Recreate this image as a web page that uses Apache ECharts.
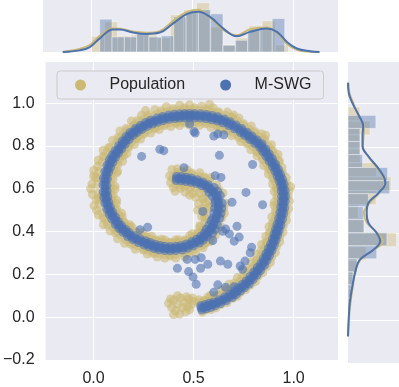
<!DOCTYPE html>
<html>
<head>
<meta charset="utf-8">
<script src="https://cdn.jsdelivr.net/npm/echarts@6/dist/echarts.min.js"></script>
<style>
  html, body { margin: 0; padding: 0; background: #fff; }
  #chart { width: 399px; height: 387px; }
</style>
</head>
<body>
<div id="chart"></div>
<script>
// ticks
const xTicks = [0, 0.5, 1.0];
const yTicks = [-0.2, 0, 0.2, 0.4, 0.6, 0.8, 1.0];

// Population (tan) scatter
const popOuter = [
  [0.419,0.693],[0.441,0.681],[0.468,0.689],[0.491,0.674],
  [0.531,0.675],[0.555,0.655],[0.586,0.652],
  [0.616,0.618],[0.626,0.594],[0.647,0.580],
  [0.660,0.532],[0.650,0.508],[0.654,0.485],[0.640,0.463],
  [0.634,0.424],[0.615,0.407],[0.610,0.384],
  [0.586,0.354],[0.561,0.346],[0.547,0.324],
  [0.511,0.301],[0.479,0.300],[0.455,0.282],
  [0.411,0.276],[0.383,0.286],[0.356,0.276],
  [0.319,0.281],[0.297,0.298],[0.269,0.295],[0.248,0.314],
  [0.209,0.317],[0.186,0.340],[0.155,0.345],
  [0.120,0.366],[0.108,0.394],[0.082,0.403],
  [0.049,0.432],[0.048,0.463],[0.023,0.478],
  [0.002,0.521],[0.013,0.551],[-0.006,0.573],
  [-0.008,0.623],[0.010,0.652],[0.001,0.685],
  [0.023,0.733],[0.048,0.751],[0.048,0.780],[0.076,0.793],
  [0.095,0.827],[0.123,0.841],[0.132,0.870],[0.162,0.881],
  [0.189,0.916],[0.220,0.919],[0.240,0.944],[0.272,0.944],
  [0.306,0.969],[0.338,0.964],[0.364,0.983],[0.396,0.974],
  [0.430,0.990],[0.455,0.978],[0.480,0.992],[0.505,0.978],
  [0.540,0.985],[0.567,0.971],[0.598,0.977],[0.625,0.960],
  [0.669,0.958],[0.693,0.935],[0.727,0.930],[0.751,0.903],
  [0.788,0.893],[0.807,0.866],[0.838,0.857],[0.856,0.830],
  [0.889,0.806],[0.897,0.777],[0.922,0.760],[0.929,0.730],
  [0.942,0.699],[0.946,0.672],[0.963,0.652],[0.964,0.626],
  [0.978,0.593],[0.972,0.566],[0.979,0.542],
  [0.975,0.507],[0.963,0.482],[0.964,0.453],[0.949,0.428],
  [0.947,0.398],[0.932,0.378],[0.931,0.352],[0.915,0.332],
  [0.909,0.302],[0.891,0.282],[0.884,0.256],[0.865,0.236],
  [0.846,0.208],[0.823,0.192],[0.809,0.166],[0.784,0.150],
  [0.761,0.129],[0.737,0.118],[0.719,0.098],[0.696,0.088],
  [0.667,0.068],[0.637,0.059],[0.612,0.044],
  [0.588,0.036],[0.564,0.035],[0.544,0.024]
];
const popInner = [
  [0.408,0.588],[0.433,0.602],[0.457,0.584],[0.483,0.595],
  [0.496,0.577],[0.529,0.581],[0.551,0.554],
  [0.546,0.553],[0.574,0.545],[0.577,0.515],
  [0.560,0.532],[0.573,0.508],[0.554,0.485],[0.563,0.463],
  [0.555,0.467],[0.556,0.440],[0.531,0.427],
  [0.533,0.420],[0.521,0.395],[0.494,0.390],
  [0.481,0.381],[0.456,0.360],[0.425,0.362],
  [0.411,0.361],[0.383,0.350],[0.356,0.361],
  [0.340,0.364],[0.313,0.360],[0.290,0.378],[0.264,0.376],
  [0.245,0.394],[0.213,0.398],[0.191,0.422],
  [0.181,0.432],[0.154,0.443],[0.143,0.469],
  [0.140,0.486],[0.116,0.503],[0.114,0.532],
  [0.115,0.546],[0.098,0.569],[0.107,0.598],
  [0.107,0.612],[0.097,0.645],[0.116,0.674],
  [0.120,0.681],[0.121,0.712],[0.145,0.728],[0.149,0.754],
  [0.167,0.764],[0.176,0.794],[0.204,0.807],[0.215,0.834],
  [0.235,0.832],[0.254,0.856],[0.286,0.860],[0.306,0.881],
  [0.328,0.876],[0.355,0.895],[0.386,0.890],[0.413,0.905],
  [0.430,0.895],[0.455,0.907],[0.480,0.897],[0.505,0.907],
  [0.528,0.895],[0.559,0.903],[0.586,0.887],[0.617,0.892],
  [0.631,0.876],[0.665,0.873],[0.689,0.848],[0.723,0.841],
  [0.736,0.819],[0.767,0.810],[0.786,0.783],[0.816,0.774],
  [0.817,0.754],[0.843,0.737],[0.850,0.708],[0.875,0.690],
  [0.874,0.669],[0.895,0.649],[0.895,0.622],[0.913,0.603],
  [0.903,0.588],[0.916,0.563],[0.904,0.537],
  [0.902,0.522],[0.908,0.493],[0.891,0.468],[0.894,0.439],
  [0.877,0.423],[0.879,0.396],[0.861,0.377],[0.862,0.350],
  [0.839,0.340],[0.838,0.311],[0.814,0.294],[0.812,0.265],
  [0.789,0.258],[0.781,0.229],[0.752,0.216],[0.742,0.187],
  [0.719,0.185],[0.705,0.160],[0.677,0.154],[0.664,0.130],
  [0.640,0.127],[0.617,0.104],[0.585,0.103],
  [0.571,0.093],[0.552,0.078],[0.527,0.081]
];
const popMid = [
  [0.417,0.675],[0.441,0.674],[0.466,0.671],[0.491,0.667],
  [0.411,0.621],[0.435,0.620],[0.460,0.617],[0.485,0.613],
  [0.525,0.658],[0.553,0.648],[0.580,0.635],
  [0.507,0.608],[0.535,0.598],[0.562,0.585],
  [0.578,0.364],[0.559,0.348],[0.539,0.334],
  [0.544,0.406],[0.525,0.390],[0.505,0.376],
  [0.504,0.318],[0.476,0.307],[0.448,0.299],
  [0.486,0.368],[0.458,0.357],[0.430,0.349],
  [0.411,0.294],[0.383,0.293],[0.356,0.294],
  [0.411,0.348],[0.383,0.347],[0.356,0.348],
  [0.323,0.299],[0.298,0.305],[0.273,0.313],[0.249,0.321],
  [0.337,0.351],[0.312,0.357],[0.287,0.365],[0.263,0.373],
  [0.216,0.334],[0.188,0.347],[0.162,0.362],
  [0.240,0.382],[0.212,0.395],[0.186,0.410],
  [0.136,0.383],[0.116,0.401],[0.098,0.420],
  [0.172,0.423],[0.152,0.441],[0.134,0.460],
  [0.069,0.443],[0.055,0.466],[0.043,0.489],
  [0.124,0.477],[0.110,0.500],[0.098,0.523],
  [0.030,0.527],[0.025,0.553],[0.022,0.579],
  [0.092,0.541],[0.087,0.567],[0.084,0.593],
  [0.019,0.620],[0.021,0.651],[0.028,0.682],
  [0.084,0.615],[0.086,0.646],[0.093,0.677],
  [0.042,0.723],[0.054,0.748],[0.067,0.770],[0.082,0.790],
  [0.100,0.692],[0.112,0.717],[0.125,0.739],[0.140,0.759],
  [0.113,0.812],[0.131,0.834],[0.150,0.855],[0.170,0.874],
  [0.153,0.776],[0.171,0.798],[0.190,0.819],[0.210,0.838],
  [0.200,0.896],[0.225,0.910],[0.251,0.924],[0.277,0.935],
  [0.226,0.848],[0.251,0.862],[0.277,0.876],[0.303,0.887],
  [0.312,0.946],[0.341,0.954],[0.370,0.960],[0.399,0.964],
  [0.324,0.894],[0.353,0.902],[0.382,0.908],[0.411,0.912],
  [0.430,0.967],[0.455,0.968],[0.480,0.969],[0.505,0.968],
  [0.430,0.913],[0.455,0.914],[0.480,0.915],[0.505,0.914],
  [0.538,0.967],[0.567,0.964],[0.596,0.959],[0.625,0.953],
  [0.530,0.913],[0.559,0.910],[0.588,0.905],[0.617,0.899],
  [0.661,0.942],[0.690,0.929],[0.719,0.914],[0.748,0.897],
  [0.639,0.892],[0.668,0.879],[0.697,0.864],[0.726,0.847],
  [0.778,0.878],[0.803,0.860],[0.828,0.842],[0.852,0.824],
  [0.746,0.834],[0.771,0.816],[0.796,0.798],[0.820,0.780],
  [0.875,0.796],[0.892,0.773],[0.908,0.750],[0.924,0.726],
  [0.831,0.764],[0.848,0.741],[0.864,0.718],[0.880,0.694],
  [0.890,0.676],[0.901,0.652],[0.911,0.629],[0.919,0.606],
  [0.921,0.589],[0.923,0.563],[0.922,0.538],
  [0.920,0.518],[0.915,0.491],[0.909,0.464],[0.901,0.437],
  [0.894,0.417],[0.886,0.394],[0.878,0.371],[0.869,0.348],
  [0.859,0.329],[0.847,0.306],[0.834,0.283],[0.821,0.260],
  [0.807,0.243],[0.789,0.222],[0.770,0.201],[0.750,0.180],
  [0.733,0.167],[0.712,0.152],[0.691,0.136],[0.671,0.122],
  [0.648,0.111],[0.620,0.098],[0.593,0.087],
  [0.574,0.081],[0.552,0.075],[0.530,0.069]
];
const popExtra = [
  [0.380,0.660],[0.385,0.628],[0.392,0.690],[0.398,0.605],[0.395,0.650],
  [0.450,0.610],[0.480,0.570],[0.510,0.560],[0.525,0.530],[0.520,0.500],[0.545,0.510],[0.540,0.470],
  [0.375,0.065],[0.390,0.045],[0.400,0.080],[0.410,0.030],[0.420,0.060],[0.430,0.015],
  [0.435,0.090],[0.445,0.045],[0.455,0.070],[0.460,0.025],[0.470,0.050],[0.475,0.085],
  [0.480,0.035],[0.490,0.060],[0.500,0.075],[0.420,0.100],[0.400,0.012],[0.385,0.085],
  [0.495,0.090],[0.465,0.095],
  [-0.015,0.600],[0.000,0.660],[0.020,0.705],[0.030,0.560],[0.015,0.500],[0.070,0.430],
  [0.200,0.895],[0.260,0.965],[0.580,0.995],[0.700,0.945],[0.860,0.850],[0.985,0.610]
];

// M-SWG (blue) scatter: core of the band, a staggered core row, the two edges, stray points
const mswgCore = [
  [0.414,0.648],[0.438,0.647],[0.463,0.644],[0.488,0.640],
  [0.516,0.633],[0.544,0.623],[0.571,0.610],
  [0.590,0.594],[0.607,0.576],[0.621,0.556],
  [0.625,0.532],[0.623,0.508],[0.619,0.485],[0.613,0.463],
  [0.603,0.441],[0.592,0.420],[0.579,0.401],
  [0.561,0.385],[0.542,0.369],[0.522,0.355],
  [0.495,0.343],[0.467,0.332],[0.439,0.324],
  [0.411,0.321],[0.383,0.320],[0.356,0.321],
  [0.330,0.325],[0.305,0.331],[0.280,0.339],[0.256,0.347],
  [0.228,0.358],[0.200,0.371],[0.174,0.386],
  [0.154,0.403],[0.134,0.421],[0.116,0.440],
  [0.101,0.463],[0.087,0.486],[0.075,0.509],
  [0.066,0.535],[0.061,0.561],[0.058,0.587],
  [0.057,0.617],[0.059,0.648],[0.066,0.679],
  [0.076,0.705],[0.088,0.730],[0.101,0.752],[0.116,0.772],
  [0.133,0.794],[0.151,0.816],[0.170,0.837],[0.190,0.856],
  [0.213,0.872],[0.238,0.886],[0.264,0.900],[0.290,0.911],
  [0.318,0.920],[0.347,0.928],[0.376,0.934],[0.405,0.938],
  [0.430,0.940],[0.455,0.941],[0.480,0.942],[0.505,0.941],
  [0.534,0.940],[0.563,0.937],[0.592,0.932],[0.621,0.926],
  [0.650,0.917],[0.679,0.904],[0.708,0.889],[0.737,0.872],
  [0.762,0.856],[0.787,0.838],[0.812,0.820],[0.836,0.802],
  [0.853,0.780],[0.870,0.757],[0.886,0.734],[0.902,0.710],
  [0.915,0.687],[0.926,0.663],[0.936,0.640],[0.944,0.617],
  [0.948,0.591],[0.950,0.565],[0.949,0.540],
  [0.946,0.513],[0.941,0.486],[0.935,0.459],[0.927,0.432],
  [0.919,0.408],[0.911,0.385],[0.903,0.362],[0.894,0.339],
  [0.883,0.316],[0.871,0.293],[0.858,0.270],[0.845,0.247],
  [0.827,0.225],[0.809,0.204],[0.790,0.183],[0.770,0.162],
  [0.749,0.145],[0.728,0.130],[0.707,0.114],[0.687,0.100],
  [0.659,0.086],[0.631,0.073],[0.604,0.062],
  [0.582,0.055],[0.560,0.049],[0.538,0.043]
];
const mswgCore2 = [
  [0.426,0.648],[0.451,0.646],[0.476,0.642],[0.502,0.637],[0.530,0.628],[0.558,0.617],
  [0.581,0.602],[0.599,0.585],[0.614,0.566],[0.623,0.544],[0.624,0.520],[0.621,0.497],
  [0.616,0.474],[0.608,0.452],[0.598,0.431],[0.586,0.411],[0.570,0.393],[0.552,0.377],
  [0.532,0.362],[0.509,0.349],[0.481,0.338],[0.453,0.328],[0.425,0.323],[0.397,0.321],
  [0.370,0.321],[0.343,0.323],[0.318,0.328],[0.293,0.335],[0.268,0.343],[0.242,0.353],
  [0.214,0.365],[0.187,0.379],[0.164,0.395],[0.144,0.412],[0.125,0.431],[0.109,0.452],
  [0.094,0.475],[0.081,0.498],[0.071,0.522],[0.064,0.548],[0.060,0.574],[0.058,0.602],
  [0.058,0.633],[0.063,0.664],[0.071,0.692],[0.082,0.718],[0.095,0.741],[0.109,0.762],
  [0.125,0.783],[0.142,0.805],[0.161,0.827],[0.180,0.847],[0.202,0.864],[0.226,0.879],
  [0.251,0.893],[0.277,0.906],[0.304,0.916],[0.333,0.924],[0.362,0.931],[0.391,0.936],
  [0.418,0.939],[0.443,0.941],[0.468,0.942],[0.493,0.942],[0.520,0.941],[0.549,0.939],
  [0.578,0.935],[0.607,0.929],[0.636,0.922],[0.665,0.911],[0.694,0.897],[0.723,0.881],
  [0.750,0.864],[0.775,0.847],[0.800,0.829],[0.824,0.811],[0.845,0.791],[0.862,0.769],
  [0.878,0.746],[0.894,0.722],[0.909,0.699],[0.921,0.675],[0.931,0.652],[0.940,0.629],
  [0.946,0.604],[0.949,0.578],[0.950,0.553],[0.948,0.527],[0.944,0.500],[0.938,0.473],
  [0.931,0.446],[0.923,0.420],[0.915,0.397],[0.907,0.374],[0.899,0.351],[0.889,0.328],
  [0.877,0.305],[0.865,0.282],[0.852,0.259],[0.836,0.236],[0.818,0.215],[0.800,0.194],
  [0.780,0.173],[0.760,0.154],[0.739,0.138],[0.718,0.122],[0.697,0.107],[0.673,0.093],
  [0.645,0.080],[0.618,0.068],[0.593,0.059],[0.571,0.052],[0.549,0.046]
];
const mswgEdges = [
  [0.415,0.658],[0.439,0.657],[0.464,0.654],[0.489,0.650],
  [0.413,0.638],[0.437,0.637],[0.462,0.634],[0.487,0.630],
  [0.519,0.642],[0.547,0.632],[0.574,0.619],
  [0.513,0.624],[0.541,0.614],[0.568,0.601],
  [0.603,0.606],[0.620,0.588],[0.634,0.568],
  [0.577,0.582],[0.594,0.564],[0.608,0.544],
  [0.643,0.532],[0.641,0.508],[0.637,0.485],[0.631,0.463],
  [0.607,0.532],[0.605,0.508],[0.601,0.485],[0.595,0.463],
  [0.619,0.432],[0.608,0.411],[0.595,0.392],
  [0.587,0.450],[0.576,0.429],[0.563,0.410],
  [0.568,0.376],[0.549,0.360],[0.529,0.346],
  [0.554,0.394],[0.535,0.378],[0.515,0.364],
  [0.499,0.333],[0.471,0.322],[0.443,0.314],
  [0.491,0.353],[0.463,0.342],[0.435,0.334],
  [0.411,0.311],[0.383,0.310],[0.356,0.311],
  [0.411,0.331],[0.383,0.330],[0.356,0.331],
  [0.327,0.315],[0.302,0.321],[0.277,0.329],[0.253,0.337],
  [0.333,0.335],[0.308,0.341],[0.283,0.349],[0.259,0.357],
  [0.224,0.349],[0.196,0.362],[0.170,0.377],
  [0.232,0.367],[0.204,0.380],[0.178,0.395],
  [0.147,0.396],[0.127,0.414],[0.109,0.433],
  [0.161,0.410],[0.141,0.428],[0.123,0.447],
  [0.092,0.458],[0.078,0.481],[0.066,0.504],
  [0.110,0.468],[0.096,0.491],[0.084,0.514],
  [0.056,0.533],[0.051,0.559],[0.048,0.585],
  [0.076,0.537],[0.071,0.563],[0.068,0.589],
  [0.047,0.618],[0.049,0.649],[0.056,0.680],
  [0.067,0.616],[0.069,0.647],[0.076,0.678],
  [0.067,0.710],[0.079,0.735],[0.092,0.757],[0.107,0.777],
  [0.085,0.700],[0.097,0.725],[0.110,0.747],[0.125,0.767],
  [0.125,0.801],[0.143,0.823],[0.162,0.844],[0.182,0.863],
  [0.141,0.787],[0.159,0.809],[0.178,0.830],[0.198,0.849],
  [0.208,0.881],[0.233,0.895],[0.259,0.909],[0.285,0.920],
  [0.218,0.863],[0.243,0.877],[0.269,0.891],[0.295,0.902],
  [0.316,0.930],[0.345,0.938],[0.374,0.944],[0.403,0.948],
  [0.320,0.910],[0.349,0.918],[0.378,0.924],[0.407,0.928],
  [0.430,0.950],[0.455,0.951],[0.480,0.952],[0.505,0.951],
  [0.430,0.930],[0.455,0.931],[0.480,0.932],[0.505,0.931],
  [0.535,0.950],[0.564,0.947],[0.593,0.942],[0.622,0.936],
  [0.533,0.930],[0.562,0.927],[0.591,0.922],[0.620,0.916],
  [0.654,0.926],[0.683,0.913],[0.712,0.898],[0.741,0.881],
  [0.646,0.908],[0.675,0.895],[0.704,0.880],[0.733,0.863],
  [0.768,0.864],[0.793,0.846],[0.818,0.828],[0.842,0.810],
  [0.756,0.848],[0.781,0.830],[0.806,0.812],[0.830,0.794],
  [0.861,0.786],[0.878,0.763],[0.894,0.740],[0.910,0.716],
  [0.845,0.774],[0.862,0.751],[0.878,0.728],[0.894,0.704],
  [0.924,0.691],[0.935,0.667],[0.945,0.644],[0.953,0.621],
  [0.906,0.683],[0.917,0.659],[0.927,0.636],[0.935,0.613],
  [0.958,0.592],[0.960,0.566],[0.959,0.541],
  [0.938,0.590],[0.940,0.564],[0.939,0.539],
  [0.956,0.511],[0.951,0.484],[0.945,0.457],[0.937,0.430],
  [0.936,0.515],[0.931,0.488],[0.925,0.461],[0.917,0.434],
  [0.928,0.405],[0.920,0.382],[0.912,0.359],[0.903,0.336],
  [0.910,0.411],[0.902,0.388],[0.894,0.365],[0.885,0.342],
  [0.892,0.311],[0.880,0.288],[0.867,0.265],[0.854,0.242],
  [0.874,0.321],[0.862,0.298],[0.849,0.275],[0.836,0.252],
  [0.835,0.218],[0.817,0.197],[0.798,0.176],[0.778,0.155],
  [0.819,0.232],[0.801,0.211],[0.782,0.190],[0.762,0.169],
  [0.755,0.137],[0.734,0.122],[0.713,0.106],[0.693,0.092],
  [0.743,0.153],[0.722,0.138],[0.701,0.122],[0.681,0.108],
  [0.663,0.077],[0.635,0.064],[0.608,0.053],
  [0.655,0.095],[0.627,0.082],[0.600,0.071],
  [0.585,0.045],[0.563,0.039],[0.541,0.033],
  [0.579,0.065],[0.557,0.059],[0.535,0.053]
];
const mswgStray = [
  [0.480,0.903],[0.502,0.867],[0.508,0.860],[0.601,0.846],[0.621,0.856],[0.651,0.852],
  [0.240,0.751],[0.331,0.784],[0.351,0.778],[0.629,0.756],[0.795,0.713],[0.452,0.698],
  [0.608,0.661],[0.637,0.653],[0.762,0.583],[0.692,0.537],[0.845,0.525],[0.546,0.494],
  [0.270,0.420],[0.232,0.409],[0.717,0.425],[0.646,0.401],[0.660,0.412],[0.679,0.389],
  [0.703,0.355],[0.728,0.374],[0.596,0.358],[0.790,0.327],[0.783,0.301],[0.468,0.270],
  [0.508,0.270],[0.538,0.278],[0.571,0.247],[0.634,0.262],[0.671,0.247],[0.733,0.239],
  [0.745,0.224],[0.757,0.262],[0.535,0.228],[0.419,0.228],[0.475,0.213],[0.497,0.188],
  [0.513,0.154],[0.621,0.151],[0.601,0.116],[0.703,0.142],[0.660,0.140]
];

// top marginal: histogram of x (density)
const popXEdges = [0, 0.065, 0.130, 0.195, 0.260, 0.326, 0.391, 0.456, 0.521, 0.586, 0.651, 0.716, 0.781, 0.846, 0.911, 0.977];
const popXHist = [0.67, 1.29, 0.69, 0.73, 0.73, 0.60, 1.59, 1.80, 2.10, 1.07, 0.30, 0.60, 1.12, 1.33, 0.30];
const mswgXEdges = [0.041, 0.102, 0.163, 0.224, 0.285, 0.347, 0.408, 0.469, 0.530, 0.591, 0.652, 0.713, 0.774, 0.835, 0.896, 0.958];
const mswgXHist = [1.40, 0.64, 0.64, 0.82, 0.64, 0.69, 1.50, 1.72, 1.80, 1.63, 0.29, 0.50, 0.99, 1.03, 1.43];
const kdeX = [-0.142, -0.058, -0.008, 0.041, 0.107, 0.141, 0.207, 0.273, 0.339, 0.405, 0.472, 0.530, 0.588, 0.654, 0.720, 0.786, 0.869, 0.919, 0.969, 1.018, 1.084, 1.130];
const popKdeX = [0, 0.13, 0.30, 0.69, 1.00, 0.99, 0.88, 0.82, 0.89, 1.33, 1.70, 1.80, 1.46, 0.94, 0.71, 0.97, 1.05, 0.82, 0.34, 0.09, 0.01, 0];
const mswgKdeX = [0, 0.07, 0.21, 0.58, 0.96, 0.96, 0.83, 0.77, 0.83, 1.22, 1.62, 1.72, 1.50, 1.00, 0.67, 0.86, 1.00, 0.86, 0.43, 0.15, 0.03, 0];

// right marginal: histogram of y (density), edges from top to bottom
const popYEdges = [0.984, 0.919, 0.855, 0.790, 0.726, 0.661, 0.597, 0.532, 0.468, 0.403, 0.338, 0.274, 0.209, 0.145, 0.080, 0.016];
const popYHist = [0.69, 1.28, 0.71, 0.71, 1.65, 2.49, 1.63, 0.59, 0.94, 2.81, 1.06, 0.53, 0.29, 0.24, 0.15];
const mswgYEdges = [0.945, 0.885, 0.824, 0.764, 0.704, 0.643, 0.583, 0.523, 0.463, 0.402, 0.342, 0.282, 0.221, 0.161, 0.101, 0.040];
const mswgYHist = [1.61, 0.69, 0.69, 0.84, 2.29, 2.41, 1.18, 0.88, 0.92, 2.25, 1.66, 0.53, 0.29, 0.19, 0.12];
const kdeY = [1.096, 1.050, 1.003, 0.941, 0.895, 0.849, 0.802, 0.756, 0.710, 0.663, 0.633, 0.586, 0.540, 0.494, 0.448, 0.401, 0.363, 0.324, 0.278, 0.231, 0.154, 0.077, 0.0, -0.077];
const popKdeY = [0.02, 0.08, 0.30, 0.62, 0.92, 0.90, 0.86, 1.15, 1.60, 2.00, 2.12, 1.80, 1.25, 0.92, 1.10, 1.70, 2.02, 1.50, 0.72, 0.45, 0.28, 0.14, 0.05, 0];
const mswgKdeY = [0, 0.04, 0.25, 0.65, 0.88, 0.84, 0.84, 1.18, 1.66, 2.06, 2.16, 1.76, 1.18, 1.08, 1.18, 1.66, 1.86, 1.47, 0.69, 0.45, 0.25, 0.10, 0.04, 0];

const TAN = '#CCB974';
const BLUE = '#4C72B0';
const BG = '#EAEAF2';
const FONT = '"Liberation Sans", Arial, sans-serif';

function bins(edges, vals) {
  return vals.map((v, i) => [edges[i], edges[i + 1], v]);
}

function histTop(params, api) {
  const p0 = api.coord([api.value(0), api.value(2)]);
  const p1 = api.coord([api.value(1), 0]);
  return {
    type: 'rect',
    shape: { x: p0[0], y: p0[1], width: p1[0] - p0[0], height: p1[1] - p0[1] },
    style: { fill: api.visual('color'), stroke: '#ffffff', lineWidth: 1, opacity: 0.4 }
  };
}
function histRight(params, api) {
  const p0 = api.coord([0, api.value(0)]);
  const p1 = api.coord([api.value(2), api.value(1)]);
  return {
    type: 'rect',
    shape: { x: p0[0], y: p0[1], width: p1[0] - p0[0], height: p1[1] - p0[1] },
    style: { fill: api.visual('color'), stroke: '#ffffff', lineWidth: 1, opacity: 0.4 }
  };
}

const chart = echarts.init(document.getElementById('chart'), null, { renderer: 'canvas' });

const fmt = v => (v < 0 ? '\u2212' : '') + Math.abs(v).toFixed(1);
const split = { show: true, lineStyle: { color: '#ffffff', width: 1 } };

const option = {
  animation: false,
  backgroundColor: '#ffffff',
  textStyle: { fontFamily: FONT },
  grid: [
    { left: 43, top: 62, width: 295, height: 301, show: true, backgroundColor: BG, borderWidth: 0 },
    { left: 43, top: 0, width: 295, height: 52, show: true, backgroundColor: BG, borderWidth: 0 },
    { left: 348, top: 62, width: 51, height: 301, show: true, backgroundColor: BG, borderWidth: 0 }
  ],
  legend: {
    left: 57, top: 71,
    padding: [6, 12, 6, 18],
    backgroundColor: BG,
    borderColor: '#cccccc',
    borderWidth: 1,
    borderRadius: 3,
    itemWidth: 48,
    itemHeight: 11,
    itemGap: 35,
    itemStyle: { opacity: 1 },
    textStyle: { fontSize: 16, color: '#262626', fontFamily: FONT },
    data: [{ name: 'Population', icon: 'circle' }, { name: 'M-SWG', icon: 'circle' }]
  },
  xAxis: [
    {
      gridIndex: 0, type: 'value', min: -0.240, max: 1.222,
      axisLine: { show: false },
      axisTick: { show: false, customValues: xTicks },
      axisLabel: { customValues: xTicks, formatter: fmt, fontSize: 16, color: '#262626', margin: 11, fontFamily: FONT },
      splitLine: split
    },
    {
      gridIndex: 1, type: 'value', min: -0.240, max: 1.222,
      axisLine: { show: false },
      axisTick: { show: false, customValues: xTicks },
      axisLabel: { show: false },
      splitLine: split
    },
    { gridIndex: 2, type: 'value', min: 0, max: 2.95, show: false }
  ],
  yAxis: [
    {
      gridIndex: 0, type: 'value', min: -0.2, max: 1.192,
      axisLine: { show: false },
      axisTick: { show: false, customValues: yTicks },
      axisLabel: { customValues: yTicks, formatter: fmt, fontSize: 16, color: '#262626', margin: 11, fontFamily: FONT },
      splitLine: split
    },
    { gridIndex: 1, type: 'value', min: 0, max: 2.22, show: false },
    {
      gridIndex: 2, type: 'value', min: -0.2, max: 1.192,
      axisLine: { show: false },
      axisTick: { show: false, customValues: yTicks },
      axisLabel: { show: false },
      splitLine: split
    }
  ],
  series: [
    {
      name: 'Population', type: 'scatter', xAxisIndex: 0, yAxisIndex: 0,
      data: popOuter.concat(popInner, popMid, popExtra),
      symbolSize: 9,
      itemStyle: { color: TAN, opacity: 0.6 },
      silent: true
    },
    {
      name: 'M-SWG', type: 'scatter', xAxisIndex: 0, yAxisIndex: 0,
      data: mswgCore.concat(mswgCore2, mswgEdges, mswgStray),
      symbolSize: 9,
      itemStyle: { color: BLUE, opacity: 0.6 },
      silent: true
    },
    {
      name: 'Population x hist', type: 'custom', xAxisIndex: 1, yAxisIndex: 1,
      data: bins(popXEdges, popXHist), renderItem: histTop, itemStyle: { color: TAN }, silent: true
    },
    {
      name: 'Population x kde', type: 'line', xAxisIndex: 1, yAxisIndex: 1,
      data: kdeX.map((x, i) => [x, popKdeX[i]]),
      showSymbol: false, smooth: 0.4, lineStyle: { color: TAN, width: 2 }, itemStyle: { color: TAN }, silent: true
    },
    {
      name: 'M-SWG x hist', type: 'custom', xAxisIndex: 1, yAxisIndex: 1,
      data: bins(mswgXEdges, mswgXHist), renderItem: histTop, itemStyle: { color: BLUE }, silent: true
    },
    {
      name: 'M-SWG x kde', type: 'line', xAxisIndex: 1, yAxisIndex: 1,
      data: kdeX.map((x, i) => [x, mswgKdeX[i]]),
      showSymbol: false, smooth: 0.4, lineStyle: { color: BLUE, width: 2 }, itemStyle: { color: BLUE }, silent: true
    },
    {
      name: 'Population y hist', type: 'custom', xAxisIndex: 2, yAxisIndex: 2,
      data: bins(popYEdges, popYHist), renderItem: histRight, itemStyle: { color: TAN }, silent: true
    },
    {
      name: 'Population y kde', type: 'line', xAxisIndex: 2, yAxisIndex: 2,
      data: kdeY.map((y, i) => [popKdeY[i], y]),
      showSymbol: false, smooth: 0.4, lineStyle: { color: TAN, width: 2 }, itemStyle: { color: TAN }, silent: true
    },
    {
      name: 'M-SWG y hist', type: 'custom', xAxisIndex: 2, yAxisIndex: 2,
      data: bins(mswgYEdges, mswgYHist), renderItem: histRight, itemStyle: { color: BLUE }, silent: true
    },
    {
      name: 'M-SWG y kde', type: 'line', xAxisIndex: 2, yAxisIndex: 2,
      data: kdeY.map((y, i) => [mswgKdeY[i], y]),
      showSymbol: false, smooth: 0.4, lineStyle: { color: BLUE, width: 2 }, itemStyle: { color: BLUE }, silent: true
    }
  ]
};

chart.setOption(option);
</script>
</body>
</html>
